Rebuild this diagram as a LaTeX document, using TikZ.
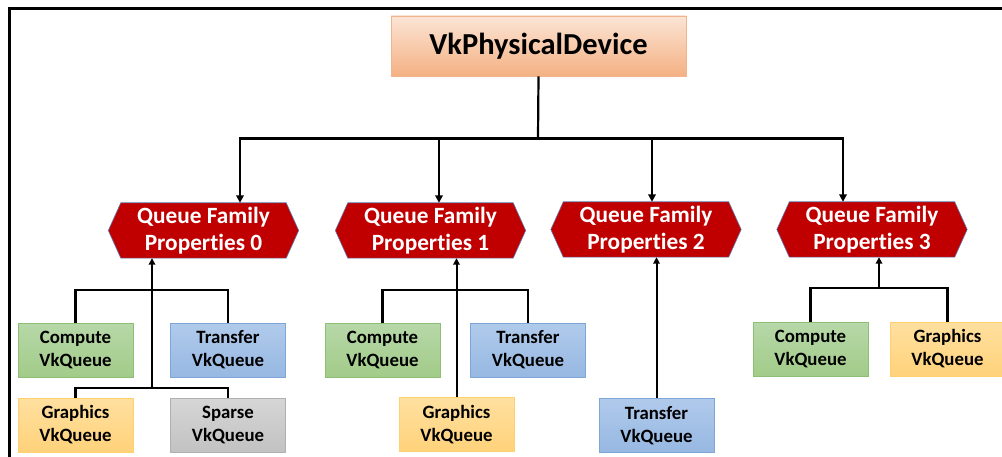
\documentclass[tikz,border=0pt]{standalone}
\usepackage{fontspec}
\setmainfont{Carlito}[Ligatures=NoCommon]
\usetikzlibrary{arrows.meta,backgrounds}
\definecolor{pdT}{HTML}{FBE4D5}
\definecolor{pdB}{HTML}{F4B183}
\definecolor{pdD}{HTML}{F2B48C}
\definecolor{cgT}{HTML}{B7D8A9}
\definecolor{cgB}{HTML}{A2CB88}
\definecolor{cgD}{HTML}{8DBF74}
\definecolor{tbT}{HTML}{B0CAEB}
\definecolor{tbB}{HTML}{97B8E2}
\definecolor{tbD}{HTML}{7FA6D9}
\definecolor{gyT}{HTML}{FFE0A0}
\definecolor{gyB}{HTML}{FFD27A}
\definecolor{gyD}{HTML}{FFD06E}
\definecolor{spT}{HTML}{D6D6D6}
\definecolor{spB}{HTML}{C2C2C2}
\definecolor{spD}{HTML}{B0B0B0}
\definecolor{hexR}{HTML}{C00000}
\definecolor{hexD}{HTML}{5B7DB1}
\begin{document}
\begin{tikzpicture}[x=1pt,y=-1pt,
  qbox/.style={draw, line width=0.8pt, minimum width=115pt, minimum height=54pt,
    inner sep=0pt, align=center, text=black,
    font=\bfseries\fontsize{18.8}{23}\selectfont},
  comp/.style={qbox, top color=cgT, bottom color=cgB, draw=cgD},
  xfer/.style={qbox, top color=tbT, bottom color=tbB, draw=tbD},
  gfx/.style={qbox, top color=gyT, bottom color=gyB, draw=gyD},
  sparse/.style={qbox, top color=spT, bottom color=spB, draw=spD},
  qfp/.style={minimum width=165pt, minimum height=55pt, inner sep=0pt,
    align=center, text=white, font=\bfseries\fontsize{23.3}{26.5}\selectfont},
  hexshape/.style={fill=hexR, draw=hexD, line width=0.6pt},
  conn/.style={line width=2.2pt, black},
  arr/.style={conn, -{Triangle[width=7.5pt,length=7.5pt]}},
  uparr/.style={line width=2pt, black, -{Triangle[width=6.5pt,length=6.5pt]}}
]
\useasboundingbox (0,0) rectangle (1002,457);
% frame
\draw[line width=3pt, black] (1004,8.5) -- (9.5,8.5) -- (9.5,459);

% top node
\node[draw=pdD, line width=0.8pt, top color=pdT, bottom color=pdB,
  minimum width=295pt, minimum height=60pt, inner sep=0pt,
  font=\bfseries\fontsize{30.5}{34}\selectfont] (pd) at (538.5,46) {VkPhysicalDevice};

% queue family properties
\node[qfp] (q0) at (203.5,230.5) {Queue Family\\Properties 0};
\node[qfp] (q1) at (430.5,230.5) {Queue Family\\Properties 1};
\node[qfp] (q2) at (646,229.5) {Queue Family\\Properties 2};
\node[qfp] (q3) at (872,229.5) {Queue Family\\Properties 3};
\begin{scope}[on background layer]
\foreach \q in {q0,q1,q2,q3}
  \filldraw[hexshape] (\q.north west) -- (\q.north east) -- ([xshift=12.5pt]\q.east)
    -- (\q.south east) -- (\q.south west) -- ([xshift=-12.5pt]\q.west) -- cycle;
\end{scope}

% queues
\node[comp] (c0) at (75.5,350) {Compute\\VkQueue};
\node[xfer] (t0) at (228,350) {Transfer\\VkQueue};
\node[gfx] (g0) at (75.5,425) {Graphics\\VkQueue};
\node[sparse] (s0) at (228,425) {Sparse\\VkQueue};

\node[comp] (c1) at (382.5,350) {Compute\\VkQueue};
\node[xfer] (t1) at (528,350) {Transfer\\VkQueue};
\node[gfx] (g1) at (456.5,424.5) {Graphics\\VkQueue};

\node[xfer] (t2) at (656.5,425.5) {Transfer\\VkQueue};

\node[comp] (c3) at (810.5,349) {Compute\\VkQueue};
\node[gfx] (g3) at (947.5,349) {Graphics\\VkQueue};

% top connectors
\coordinate (hub) at (538,138.5);
\coordinate (d0) at (240,138.5);
\coordinate (d1) at (439,138.5);
\coordinate (d2) at (652,138.5);
\coordinate (d3) at (843,138.5);
\draw[conn] (pd.south) -- (hub);
\draw[arr] (hub) -| (q0.north -| d0);
\draw[arr] (hub) -| (q3.north -| d3);
\draw[arr] (d1) -- (q1.north -| d1);
\draw[arr] (d2) -- (q2.north -| d2);

% group 0
\coordinate (j0a) at (152,290);
\coordinate (j0b) at (152,388);
\draw[conn] (c0.north) |- (j0a) -| (t0.north);
\draw[conn] (g0.north) |- (j0b) -| (s0.north);
\draw[uparr] (j0b) -- (q0.south -| j0b);

% group 1
\coordinate (j1a) at (457,290);
\draw[conn] (c1.north) |- (j1a) -| (t1.north);
\draw[uparr] (g1.north) -- (q1.south -| g1.north);

% group 2
\draw[uparr] (t2.north) -- (q2.south -| t2.north);

% group 3
\coordinate (j3a) at (879,288);
\draw[conn] (c3.north) |- (j3a) -| (g3.north);
\draw[uparr] (j3a) -- (q3.south -| j3a);
\end{tikzpicture}
\end{document}
